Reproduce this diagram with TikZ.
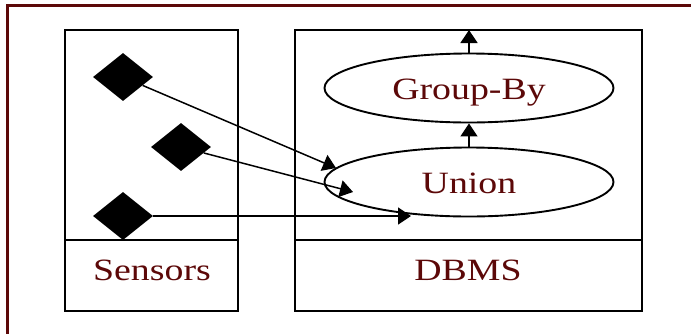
\documentclass[tikz,border=0pt]{standalone}
\usepackage{fontspec}
\setmainfont{Liberation Serif}
\newfontfamily\lblfont[FakeStretch=1.22]{Liberation Serif}
\usetikzlibrary{shapes.geometric,arrows.meta}
\definecolor{maroon}{RGB}{92,8,8}
\begin{document}
\begin{tikzpicture}[x=1pt,y=-1pt,
  box/.style={draw=black,line width=2pt,inner sep=0pt,rectangle},
  lbl/.style={text=maroon,anchor=base,inner sep=0pt,font=\lblfont\fontsize{31}{36}\selectfont},
  oval/.style={draw=black,line width=1.9pt,ellipse,inner sep=0pt,minimum width=289pt,minimum height=69pt,
     text=maroon,font=\lblfont\fontsize{31}{36}\selectfont,text height=25pt,text depth=3pt},
  sensor/.style={diamond,fill=black,inner sep=0pt,minimum width=60pt,minimum height=48pt,shape aspect=1.25},
  conn/.style={line width=1.5pt,-{Triangle[length=13pt,width=17pt]}}]
\useasboundingbox (0,0) rectangle (691,333);
\clip (0,0) rectangle (691,333);
\fill[white] (0,0) rectangle (691,333);
\draw[maroon,line width=3pt] (7,5.5) rectangle (720,360);
% Sensors box
\node[box,minimum width=173pt,minimum height=210pt] (sbox) at (151.5,135) {};
\node[box,minimum width=173pt,minimum height=71pt] (scap) at (151.5,275.5) {};
\node[lbl] (stext) at (152,280) {Sensors};
% DBMS box
\node[box,minimum width=347pt,minimum height=210pt] (dbox) at (468.5,135) {};
\node[box,minimum width=347pt,minimum height=71pt] (dcap) at (468.5,275.5) {};
\node[lbl] (dtext) at (468,280) {DBMS};
% operators
\node[oval] (group) at (469,88) {Group-By};
\node[oval] (union) at (469,182) {Union};
\coordinate (dtop) at (469,30);
% sensors
\node[sensor] (d1) at (123,77) {};
\node[sensor] (d2) at (181,147) {};
\node[sensor] (d3) at (123,216) {};
\coordinate (t1) at (336,168);
\coordinate (t2) at (353,192);
\coordinate (t3) at (411,216);
\draw[conn] (d1) -- (t1);
\draw[conn] (d2) -- (t2);
\draw[conn] (d3) -- (t3);
\draw[conn] (union) -- (group);
\draw[conn] (group) -- (dtop);
\end{tikzpicture}
\end{document}
